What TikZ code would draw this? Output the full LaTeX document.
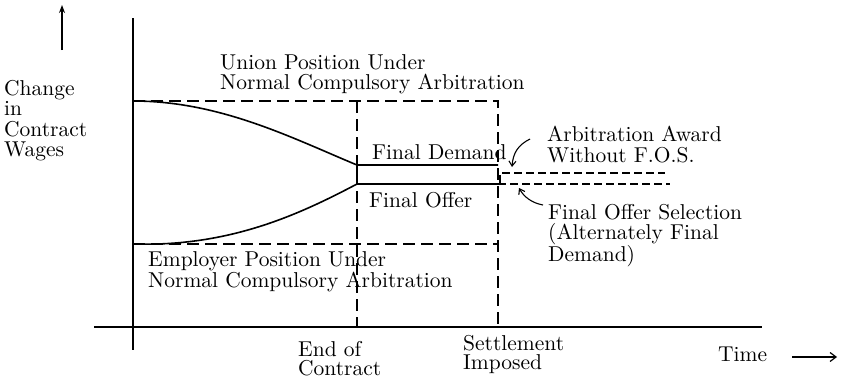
\documentclass[tikz,border=0pt]{standalone}
\usepackage{fontspec}
\setmainfont{lmroman10-regular.otf}
\usetikzlibrary{arrows.meta}
\begin{document}
\begin{tikzpicture}[x=1pt,y=-1pt,
  lbl/.style={anchor=north west,inner sep=0pt,align=left,font=\fontsize{21.5}{20}\selectfont},
  axisline/.style={line width=1.8pt},
  curveline/.style={line width=1.6pt},
  dashline/.style={line width=1.3pt,dash pattern=on 12pt off 6pt},
  smalldash/.style={line width=1.1pt,dash pattern=on 8pt off 4pt},
  pointer/.style={line width=1.1pt,-{Straight Barb[length=5pt,width=7pt]}}]
\useasboundingbox (0,0) rectangle (845,381);
% axes
\coordinate (ytop) at (133,18);
\coordinate (ybot) at (133,350);
\coordinate (xl) at (94,327);
\coordinate (xr) at (762,327);
\draw[axisline] (ytop) -- (ybot);
\draw[axisline] (xl) -- (xr);
% y arrow
\coordinate (ya0) at (62,50);
\coordinate (ya1) at (62,5);
\draw[line width=1.8pt,-{Stealth[length=8pt,width=6pt]}] (ya0) -- (ya1);
% time arrow
\coordinate (ta0) at (792,357);
\coordinate (ta1) at (837,357);
\draw[line width=1.2pt,-{Straight Barb[length=6pt,width=9pt]}] (ta0) -- (ta1);
% key points
\coordinate (u0) at (133,101);
\coordinate (u1) at (357,165);
\coordinate (u2) at (498,165);
\coordinate (e0) at (133,244);
\coordinate (e1) at (357,184);
\coordinate (e2) at (498,184);
\coordinate (e3) at (670,184);
\coordinate (a0) at (500,173);
\coordinate (a1) at (665,173);
% dashed frame
\draw[dashline] (u0) -- (498,101) -- (498,327);
\draw[dashline] (357,101) -- (357,327);
\draw[dashline] (e0) -- (498,244);
\draw[curveline] (357,165) -- (357,184);
% curves
\draw[curveline] (u0) .. controls (220,101) and (292,138) .. (u1) -- (u2);
\draw[curveline] (e0) .. controls (230,247) and (300,214) .. (e1) -- (e2);
\draw[smalldash] (e2) -- (e3);
\draw[smalldash] (500,183) -- (a0) -- (a1);
% labels
\node[lbl,font=\fontsize{21.5}{20.5}\selectfont] (ylab) at (4,80) {Change\\in\\Contract\\Wages};
\node[lbl] (union) at (220,54) {Union Position Under\\Normal Compulsory Arbitration};
\node[lbl] (fdem) at (372,144) {Final Demand};
\node[lbl] (foff) at (369,192) {Final Offer};
\node[lbl,font=\fontsize{21.5}{21}\selectfont] (empl) at (148,251) {Employer Position Under\\Normal Compulsory Arbitration};
\node[lbl,font=\fontsize{21.5}{21}\selectfont] (award) at (547,126) {Arbitration Award\\Without F.O.S.};
\node[lbl] (fos) at (548,204) {Final Offer Selection\\(Alternately Final\\Demand)};
\node[lbl,font=\fontsize{21.5}{19.5}\selectfont] (endc) at (298,341) {End of\\Contract};
\node[lbl,font=\fontsize{21.5}{19.5}\selectfont] (settle) at (463,335) {Settlement\\Imposed};
\node[lbl] (time) at (718,347) {Time};
% pointers
\coordinate (awtip) at (512,167);
\coordinate (awtail) at (530,139);
\coordinate (fostip) at (519,188);
\coordinate (fostail) at (543,205);
\draw[pointer] (awtail) .. controls (518,145) and (513,153) .. (awtip);
\draw[pointer] (fostail) .. controls (532,203) and (524,197) .. (fostip);
\end{tikzpicture}
\end{document}
